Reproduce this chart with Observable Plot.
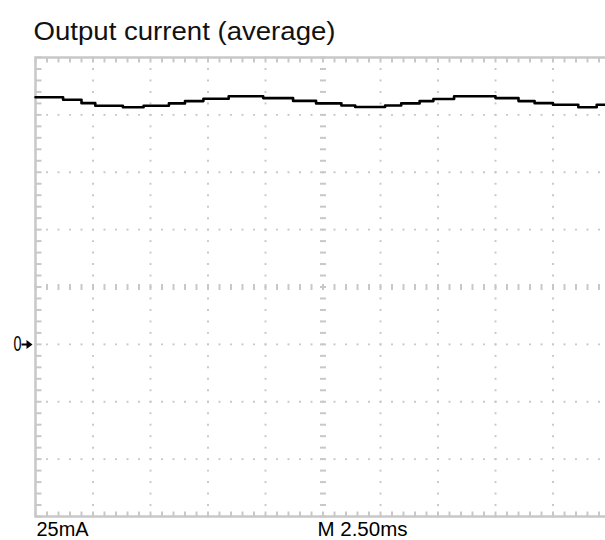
<!DOCTYPE html>
<html><head><meta charset="utf-8">
<script src="https://cdn.jsdelivr.net/npm/d3@7"></script>
<script src="https://cdn.jsdelivr.net/npm/@observablehq/plot@0.6"></script>
<style>
html,body{margin:0;padding:0;background:#fff;overflow:hidden;}
</style></head><body><div id="chart"></div>
<script>
// ---- data ----
const title = "Output current (average)";
const timeMs = [0, 1.2, 2.0, 2.6, 3.8, 4.7, 5.8, 6.5, 7.3, 8.4, 9.9, 11.2, 12.2, 13.3, 13.9, 15.2, 15.9, 16.7, 17.3, 18.2, 20.0, 21.0, 21.7, 22.5, 23.6, 24.4, 25];
const currentMa = [107.7, 106.6, 105.1, 104.0, 103.3, 104.0, 105.0, 106.0, 107.0, 108.1, 107.3, 106.1, 105.0, 104.1, 103.4, 104.1, 105.0, 106.0, 106.9, 108.1, 107.3, 106.0, 105.1, 104.4, 103.3, 104.4, 104.4];
const majorTimes = [0, 2.5, 5, 7.5, 10, 12.5, 15, 17.5, 20, 22.5, 25];
const majorCurrents = [-75, -50, -25, 0, 25, 50, 75, 100, 125];
const groundLevel = [0];
const groundLabel = "0";
const voltsLabel = "25mA";
const timeLabel = "M 2.50ms";

// ---- derived ----
const trace = timeMs.map((t, i) => ({t, i: currentMa[i]}));
const centerT = (majorTimes[0] + majorTimes[majorTimes.length - 1]) / 2;
const centerI = (majorCurrents[0] + majorCurrents[majorCurrents.length - 1]) / 2;
const minorTimes = d3.range(majorTimes[0], majorTimes[majorTimes.length - 1] + 1e-6, 0.5);
const minorCurrents = d3.range(majorCurrents[0], majorCurrents[majorCurrents.length - 1] + 1e-6, 5);
const innerT = majorTimes.slice(1, -1).filter(t => t !== centerT);
const innerI = majorCurrents.slice(1, -1).filter(v => v !== centerI);
const dotsV = d3.cross(innerT, minorCurrents);
const dotsH = d3.cross(minorTimes, innerI);

const grey = "#c8c8c8";
const sym = (pts) => ({draw(ctx) { ctx.moveTo(pts[0], pts[1]); ctx.lineTo(pts[2], pts[3]); }});
const hDash = sym([-3, 0, 3, 0]);
const vDash = sym([0, -3, 0, 3]);
const downTick = sym([0, 0, 0, 5]);
const upTick = sym([0, 0, 0, -5]);
const rightTick = sym([0, 0, 6, 0]);
const arrow = {draw(ctx) {
  ctx.moveTo(-9, -1); ctx.lineTo(-4, -1); ctx.lineTo(-4, -4.5); ctx.lineTo(2, 0);
  ctx.lineTo(-4, 4.5); ctx.lineTo(-4, 1); ctx.lineTo(-9, 1); ctx.closePath();
}};
const labelFont = "'Liberation Sans', Arial, sans-serif";

const tmin = majorTimes[0], tmax = majorTimes[majorTimes.length - 1];
const imin = majorCurrents[0], imax = majorCurrents[majorCurrents.length - 1];

const chart = Plot.plot({
  width: 610,
  height: 540,
  marginLeft: 35,
  marginRight: 0,
  marginTop: 57,
  marginBottom: 24,
  style: {background: "white", maxWidth: "none", overflow: "visible"},
  x: {domain: [tmin, tmax], axis: null},
  y: {domain: [imin, imax], axis: null},
  marks: [
    Plot.dot(dotsV, {x: d => d[0], y: d => d[1], symbol: "square", r: 1.1, fill: grey, stroke: null}),
    Plot.dot(dotsH, {x: d => d[0], y: d => d[1], symbol: "square", r: 1.1, fill: grey, stroke: null}),
    Plot.dot(minorCurrents, {x: () => centerT, y: d => d, symbol: hDash, stroke: grey, strokeWidth: 2}),
    Plot.dot(minorTimes, {x: d => d, y: () => centerI, symbol: vDash, stroke: grey, strokeWidth: 2}),
    Plot.dot(minorTimes, {x: d => d, y: () => imax, symbol: downTick, stroke: grey, strokeWidth: 2}),
    Plot.dot(minorTimes, {x: d => d, y: () => imin, symbol: upTick, stroke: grey, strokeWidth: 2}),
    Plot.dot(minorCurrents, {x: () => tmin, y: d => d, symbol: rightTick, stroke: grey, strokeWidth: 2}),
    Plot.frame({stroke: grey, strokeWidth: 2.5}),
    Plot.line(trace, {x: "t", y: "i", curve: "step-after", stroke: "#000", strokeWidth: 2.6}),
    Plot.text(groundLevel, {y: d => d, text: () => groundLabel, frameAnchor: "left", dx: -14, textAnchor: "end", lineAnchor: "middle", fontSize: 22, fontFamily: labelFont, fill: "#000"}),
    Plot.dot(groundLevel, {y: d => d, frameAnchor: "left", dx: -5, symbol: arrow, fill: "#000", stroke: null}),
    Plot.text([voltsLabel], {frameAnchor: "bottom-left", dy: 19, dx: 1, textAnchor: "start", lineAnchor: "bottom", fontSize: 20, fontFamily: labelFont, fill: "#000"}),
    Plot.text([timeLabel], {frameAnchor: "bottom", dy: 19, dx: -5.5, textAnchor: "start", lineAnchor: "bottom", fontSize: 20, fontFamily: labelFont, fill: "#000"}),
    Plot.text([title], {frameAnchor: "top-left", dy: -18, dx: -2, textAnchor: "start", lineAnchor: "bottom", fontSize: 26, fontFamily: labelFont, fill: "#111"})
  ]
});
// squeeze the scope-style labels to the reference's widths
const textWidths = new Map([[voltsLabel, 52], [timeLabel, 90], [groundLabel, 8], [title, 302]]);
d3.select(chart).selectAll("text").each(function() {
  const w = textWidths.get(this.textContent);
  if (w) { this.setAttribute("textLength", w); this.setAttribute("lengthAdjust", "spacingAndGlyphs"); }
});
document.getElementById("chart").appendChild(chart);
</script></body></html>
